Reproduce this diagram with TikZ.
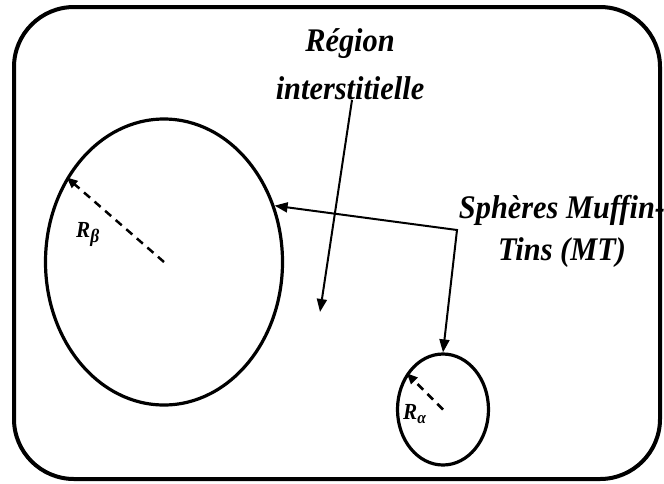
\documentclass[tikz,border=0pt]{standalone}
\usepackage{fontspec}
\setmainfont{Liberation Serif}
\newfontfamily\lblfont[FakeStretch=0.92]{Liberation Serif}
\usetikzlibrary{shapes.geometric,arrows.meta}

\begin{document}
\begin{tikzpicture}[
  x=1pt, y=-1pt,
  % --- sketch style: edit visual look here ----------------------------
  cell/.style={draw, line width=4pt, rounded corners=60pt},
  sphere/.style={ellipse, draw, line width=3.2pt, inner sep=0pt},
  title/.style={font=\lblfont\bfseries\itshape\fontsize{33}{48}\selectfont,
                align=center, inner sep=0pt},
  radlbl/.style={font=\lblfont\bfseries\itshape\fontsize{23}{26}\selectfont,
                 inner sep=0pt},
  conn/.style={line width=2pt, -{Triangle[length=13pt,width=10pt]}},
  radius/.style={line width=2.5pt, dash pattern=on 8pt off 6pt,
                 -{Triangle[length=11pt,width=9pt]}},
  % ---------------------------------------------------------------------
]
  \useasboundingbox (0,0) rectangle (664,483);

  % unit cell
  \draw[cell] (14,7) rectangle (660,479);

  % MT spheres
  \node[sphere, minimum width=237pt, minimum height=286pt] (bigsph) at (164,262) {};
  \node[sphere, minimum width=91pt, minimum height=111pt] (smallsph) at (443,409.5) {};

  % radii
  \draw[radius] (bigsph.center) -- (bigsph.139);
  \draw[radius] (smallsph.center) -- (smallsph.135);
  \node[radlbl, anchor=base west] (rbeta) at (76,237)
       {R\raisebox{-0.22em}{\fontsize{19}{19}\selectfont β}};
  \node[radlbl, anchor=base west] (ralpha) at (403,419)
       {R\raisebox{-0.2em}{\fontsize{17}{17}\selectfont α}};

  % labels
  \node[title, anchor=south] (region) at (350,100) {Région\\interstitielle};
  \node[title, anchor=south, font=\lblfont\bfseries\itshape\fontsize{33}{42}\selectfont]
       (mt) at (562,268) {Sphères Muffin-\\Tins (MT)};

  % connectors
  \coordinate (intpt) at (320,312);
  \coordinate (mtcorner) at (457,230);
  \draw[conn] (region.south) ++(2,0) -- (intpt);
  \draw[conn, {Triangle[length=13pt,width=10pt]}-{Triangle[length=13pt,width=10pt]}]
       (bigsph.27) -- (mtcorner) -- (smallsph.north);
\end{tikzpicture}
\end{document}
